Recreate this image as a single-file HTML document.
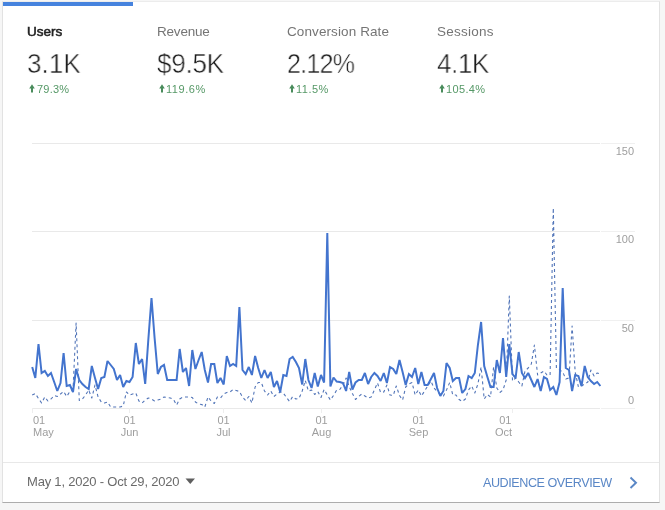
<!DOCTYPE html>
<html><head><meta charset="utf-8">
<style>
*{margin:0;padding:0;box-sizing:border-box}
html,body{width:665px;height:510px;overflow:hidden;background:#f6f6f6;font-family:"Liberation Sans",sans-serif}
.t{will-change:transform}
.card{position:absolute;left:2px;top:1px;width:658px;height:502px;background:#fff;border:1px solid #e2e2e2;border-top-color:#ececec;border-bottom-color:#adadad}
.bar{position:absolute;left:3px;top:2px;width:130px;height:4px;background:#4683de}
.t{position:absolute;white-space:nowrap}
.lab{font-size:13.5px;color:#757575}
.big{font-size:27.5px;color:#1c1c1c;-webkit-text-stroke:0.5px #fff;transform-origin:0 0}
.pct{font-size:11px;color:#559866}
.sep{position:absolute;left:3px;top:462px;width:656px;height:1px;background:#e8e8e8}
svg{position:absolute;left:0;top:0}
.arr{position:absolute}
</style></head><body>
<div class="card"></div>
<div class="bar"></div>
<div class="t lab" style="left:27px;top:23.5px;color:#212121;-webkit-text-stroke:0.55px #212121;letter-spacing:0px">Users</div>
<div class="t lab" style="left:157px;top:23.5px;letter-spacing:-0.2px">Revenue</div>
<div class="t lab" style="left:287px;top:23.5px;letter-spacing:0.1px">Conversion Rate</div>
<div class="t lab" style="left:437px;top:23.5px;letter-spacing:0.25px">Sessions</div>
<div class="t big" style="left:27px;top:47.6px;letter-spacing:0px;transform:scaleX(0.95)">3.1K</div>
<div class="t big" style="left:157px;top:47.6px;letter-spacing:-0.3px;transform:scaleX(0.95)">$9.5K</div>
<div class="t big" style="left:287px;top:47.6px;letter-spacing:-0.8px;transform:scaleX(0.91)">2.12%</div>
<div class="t big" style="left:437px;top:47.6px;letter-spacing:-0.5px;transform:scaleX(0.95)">4.1K</div>
<svg class="arr" style="left:29px;top:84px" width="6" height="9" viewBox="0 0 6 9"><path d="M0.2,4.4 L3,0.3 L5.8,4.4 Z M2,3.5 H4 V8.6 H2 Z" fill="#4a8c5c"/></svg>
<svg class="arr" style="left:159px;top:84px" width="6" height="9" viewBox="0 0 6 9"><path d="M0.2,4.4 L3,0.3 L5.8,4.4 Z M2,3.5 H4 V8.6 H2 Z" fill="#4a8c5c"/></svg>
<svg class="arr" style="left:289px;top:84px" width="6" height="9" viewBox="0 0 6 9"><path d="M0.2,4.4 L3,0.3 L5.8,4.4 Z M2,3.5 H4 V8.6 H2 Z" fill="#4a8c5c"/></svg>
<svg class="arr" style="left:439px;top:84px" width="6" height="9" viewBox="0 0 6 9"><path d="M0.2,4.4 L3,0.3 L5.8,4.4 Z M2,3.5 H4 V8.6 H2 Z" fill="#4a8c5c"/></svg>
<div class="t pct" style="left:37px;top:83px;letter-spacing:0.2px">79.3%</div>
<div class="t pct" style="left:166px;top:83px;letter-spacing:0.55px">119.6%</div>
<div class="t pct" style="left:296px;top:83px;letter-spacing:0.5px">11.5%</div>
<div class="t pct" style="left:446px;top:83px;letter-spacing:0.35px">105.4%</div>
<svg width="665" height="510" viewBox="0 0 665 510">
<g stroke="#e9e9e9" stroke-width="1" shape-rendering="crispEdges">
<line x1="32" y1="143.5" x2="600" y2="143.5"/>
<line x1="32" y1="231.5" x2="600" y2="231.5"/>
<line x1="32" y1="320.5" x2="600" y2="320.5"/>
<line x1="32" y1="408.5" x2="600" y2="408.5"/>
<g stroke="#f0f0f0">
<line x1="601" y1="143.5" x2="635" y2="143.5"/>
<line x1="601" y1="231.5" x2="635" y2="231.5"/>
<line x1="601" y1="320.5" x2="635" y2="320.5"/>
<line x1="601" y1="408.5" x2="635" y2="408.5"/>
</g>
<g stroke="#eeeeee">
<line x1="32.5" y1="408" x2="32.5" y2="413"/>
<line x1="129.5" y1="408" x2="129.5" y2="413"/>
<line x1="223.5" y1="408" x2="223.5" y2="413"/>
<line x1="321.5" y1="408" x2="321.5" y2="413"/>
<line x1="418.5" y1="408" x2="418.5" y2="413"/>
<line x1="512.5" y1="408" x2="512.5" y2="413"/>
</g>
</g>
<path d="M32.2,395.0 L35.3,393.5 L38.5,398.5 L41.6,403.0 L44.8,397.0 L47.9,401.0 L51.0,399.0 L54.2,395.5 L57.3,396.5 L60.5,394.0 L63.6,391.5 L66.7,396.5 L69.9,391.5 L73.0,390.0 L76.1,323.0 L79.3,400.5 L82.4,399.0 L85.6,395.0 L88.7,390.0 L91.8,398.0 L95.0,385.0 L98.1,397.0 L101.3,402.0 L104.4,403.0 L107.5,402.0 L110.7,407.0 L113.8,407.0 L117.0,407.0 L120.1,407.0 L123.2,406.0 L126.4,392.0 L129.5,395.0 L132.6,394.0 L135.8,393.0 L138.9,401.0 L142.1,403.0 L145.2,400.0 L148.3,398.0 L151.5,399.0 L154.6,401.0 L157.8,400.0 L160.9,399.0 L164.0,397.0 L167.2,397.5 L170.3,398.0 L173.5,399.5 L176.6,405.0 L179.7,399.0 L182.9,397.0 L186.0,397.0 L189.1,397.0 L192.3,397.5 L195.4,402.0 L198.6,404.0 L201.7,404.5 L204.8,407.0 L208.0,397.0 L211.1,401.0 L214.3,403.5 L217.4,397.0 L220.5,398.0 L223.7,394.0 L226.8,392.5 L230.0,392.0 L233.1,389.5 L236.2,390.5 L239.4,391.5 L242.5,397.0 L245.7,400.5 L248.8,396.5 L251.9,403.0 L255.1,387.0 L258.2,382.5 L261.3,382.5 L264.5,391.0 L267.6,395.0 L270.8,391.0 L273.9,396.5 L277.0,394.0 L280.2,392.0 L283.3,393.0 L286.5,397.5 L289.6,401.5 L292.7,396.5 L295.9,399.0 L299.0,398.5 L302.2,391.0 L305.3,380.5 L308.4,391.0 L311.6,390.0 L314.7,394.5 L317.8,391.5 L321.0,397.5 L324.1,389.5 L327.3,395.0 L330.4,400.0 L333.5,395.5 L336.7,390.0 L339.8,389.5 L343.0,385.0 L346.1,378.0 L349.2,386.5 L352.4,393.5 L355.5,399.5 L358.7,396.5 L361.8,394.0 L364.9,396.0 L368.1,398.0 L371.2,397.0 L374.4,390.0 L377.5,383.0 L380.6,392.5 L383.8,392.0 L386.9,385.0 L390.0,395.0 L393.2,395.5 L396.3,386.0 L399.5,395.5 L402.6,400.0 L405.7,387.0 L408.9,384.0 L412.0,382.5 L415.2,395.0 L418.3,390.0 L421.4,396.0 L424.6,391.0 L427.7,386.0 L430.9,381.0 L434.0,388.0 L437.1,391.5 L440.3,394.0 L443.4,396.0 L446.5,390.0 L449.7,382.5 L452.8,395.0 L456.0,395.0 L459.1,399.5 L462.2,401.5 L465.4,399.0 L468.5,390.0 L471.7,386.0 L474.8,393.0 L477.9,384.0 L481.1,367.0 L484.2,399.0 L487.4,394.5 L490.5,397.0 L493.6,367.0 L496.8,388.0 L499.9,392.5 L503.0,390.0 L506.2,380.0 L509.3,296.0 L512.5,381.0 L515.6,378.0 L518.7,382.0 L521.9,386.0 L525.0,371.0 L528.2,368.0 L531.3,364.0 L534.4,345.0 L537.6,375.0 L540.7,373.0 L543.9,371.0 L547.0,375.0 L550.1,375.0 L553.3,208.0 L556.4,368.0 L559.6,370.0 L562.7,372.0 L565.8,379.0 L569.0,378.0 L572.1,326.0 L575.2,372.0 L578.4,387.0 L581.5,386.0 L584.7,384.0 L587.8,382.0 L590.9,370.0 L594.1,376.0 L597.2,373.0 L600.4,374.0" fill="none" stroke="#5275b8" stroke-width="1.1" stroke-dasharray="3,3" stroke-linejoin="round"/>
<path d="M32.2,367.0 L35.3,378.0 L38.5,344.0 L41.6,373.0 L44.8,371.0 L47.9,376.0 L51.0,373.0 L54.2,382.0 L57.3,391.0 L60.5,383.0 L63.6,353.0 L66.7,386.0 L69.9,385.0 L73.0,392.0 L76.1,369.0 L79.3,380.0 L82.4,384.0 L85.6,387.0 L88.7,389.0 L91.8,366.0 L95.0,378.0 L98.1,389.0 L101.3,378.0 L104.4,377.0 L107.5,361.0 L110.7,365.0 L113.8,369.0 L117.0,380.0 L120.1,375.0 L123.2,387.0 L126.4,381.0 L129.5,382.0 L132.6,377.0 L135.8,343.0 L138.9,364.0 L142.1,359.0 L145.2,384.0 L148.3,340.0 L151.5,298.0 L154.6,338.0 L157.8,374.0 L160.9,367.0 L164.0,365.0 L167.2,380.0 L170.3,380.0 L173.5,380.0 L176.6,380.0 L179.7,349.0 L182.9,372.0 L186.0,368.0 L189.1,386.0 L192.3,350.0 L195.4,369.0 L198.6,360.0 L201.7,352.0 L204.8,370.0 L208.0,382.5 L211.1,364.0 L214.3,364.0 L217.4,383.0 L220.5,378.0 L223.7,384.5 L226.8,356.0 L230.0,366.0 L233.1,364.0 L236.2,366.0 L239.4,307.0 L242.5,370.0 L245.7,374.0 L248.8,367.0 L251.9,375.0 L255.1,356.0 L258.2,368.0 L261.3,378.0 L264.5,370.0 L267.6,378.0 L270.8,372.0 L273.9,387.0 L277.0,381.0 L280.2,392.0 L283.3,375.0 L286.5,376.0 L289.6,359.0 L292.7,357.0 L295.9,362.0 L299.0,368.0 L302.2,384.5 L305.3,359.0 L308.4,380.0 L311.6,388.0 L314.7,373.0 L317.8,386.5 L321.0,375.0 L324.1,382.5 L327.3,233.0 L330.4,386.5 L333.5,377.5 L336.7,381.5 L339.8,382.0 L343.0,383.0 L346.1,391.0 L349.2,372.0 L352.4,389.5 L355.5,382.5 L358.7,380.0 L361.8,380.0 L364.9,373.0 L368.1,384.0 L371.2,377.0 L374.4,373.0 L377.5,376.0 L380.6,381.0 L383.8,373.0 L386.9,383.0 L390.0,367.0 L393.2,369.0 L396.3,374.0 L399.5,360.0 L402.6,372.0 L405.7,385.0 L408.9,374.0 L412.0,377.0 L415.2,368.0 L418.3,384.0 L421.4,372.0 L424.6,385.0 L427.7,385.0 L430.9,379.0 L434.0,373.0 L437.1,388.0 L440.3,396.0 L443.4,391.0 L446.5,363.0 L449.7,368.0 L452.8,381.0 L456.0,378.0 L459.1,378.0 L462.2,393.0 L465.4,389.0 L468.5,376.0 L471.7,378.0 L474.8,373.0 L477.9,345.0 L481.1,322.0 L484.2,366.0 L487.4,377.0 L490.5,387.0 L493.6,387.0 L496.8,360.0 L499.9,373.0 L503.0,338.0 L506.2,377.0 L509.3,344.0 L512.5,374.0 L515.6,378.0 L518.7,352.0 L521.9,373.0 L525.0,378.0 L528.2,373.0 L531.3,380.0 L534.4,387.0 L537.6,379.0 L540.7,391.0 L543.9,377.0 L547.0,379.0 L550.1,390.0 L553.3,387.0 L556.4,395.0 L559.6,382.0 L562.7,288.0 L565.8,368.0 L569.0,370.0 L572.1,391.0 L575.2,375.0 L578.4,376.0 L581.5,386.0 L584.7,366.0 L587.8,377.0 L590.9,381.0 L594.1,384.0 L597.2,382.0 L600.4,386.0" fill="none" stroke="#4374ce" stroke-width="2" stroke-linejoin="miter" stroke-miterlimit="2"/>
<g font-family="Liberation Sans" font-size="11" fill="#9e9e9e">
<text x="634" y="155" text-anchor="end">150</text>
<text x="634" y="243" text-anchor="end">100</text>
<text x="634" y="332" text-anchor="end">50</text>
<text x="634" y="404" text-anchor="end">0</text>
<text x="33" y="424">01</text><text x="33" y="436">May</text>
<text x="129.5" y="424" text-anchor="middle">01</text><text x="129.5" y="436" text-anchor="middle">Jun</text>
<text x="223.5" y="424" text-anchor="middle">01</text><text x="223.5" y="436" text-anchor="middle">Jul</text>
<text x="321.5" y="424" text-anchor="middle">01</text><text x="321.5" y="436" text-anchor="middle">Aug</text>
<text x="418.5" y="424" text-anchor="middle">01</text><text x="418.5" y="436" text-anchor="middle">Sep</text>
<text x="511.5" y="424" text-anchor="end">01</text><text x="512" y="436" text-anchor="end">Oct</text>
</g>
<path d="M185.5,478.5 L195,478.5 L190.25,484 Z" fill="#5f5f5f"/>
<path d="M630.5,477.5 L636,482.7 L630.5,488" fill="none" stroke="#5a87c6" stroke-width="1.9"/>
</svg>
<div class="sep"></div>
<div class="t" style="left:27px;top:474px;font-size:13px;letter-spacing:-0.2px;color:#6a6a6a">May 1, 2020 - Oct 29, 2020</div>
<div class="t" style="left:483px;top:475.5px;font-size:12.6px;letter-spacing:-0.45px;color:#5a87c6">AUDIENCE OVERVIEW</div>
</body></html>
